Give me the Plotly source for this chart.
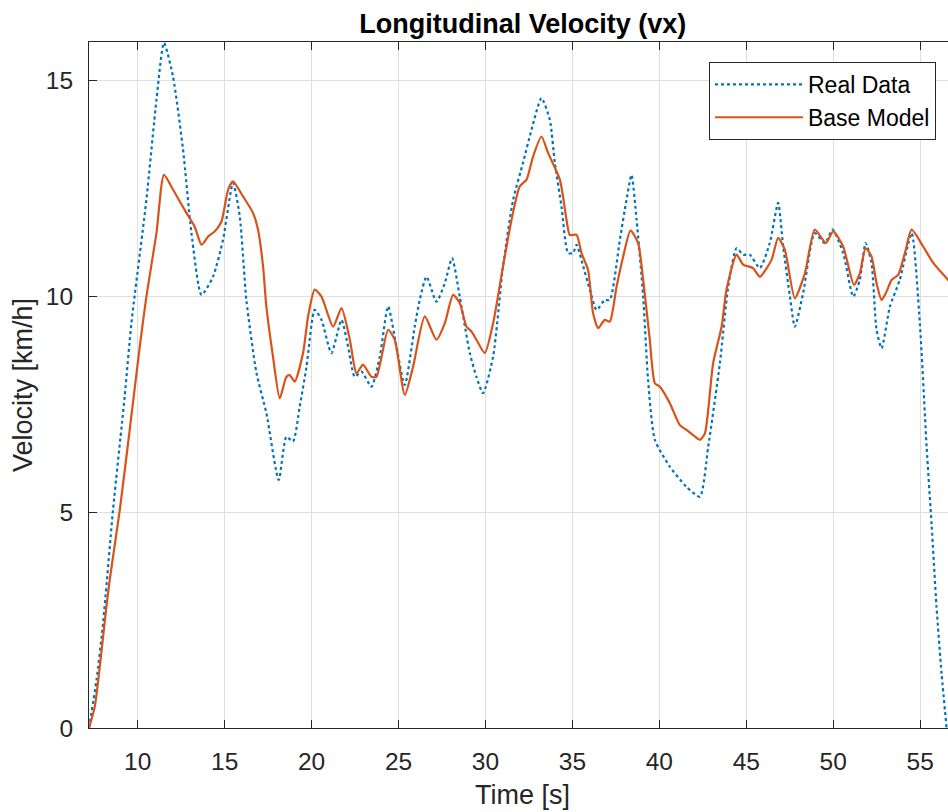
import plotly.graph_objects as go

# ---------------- data ----------------
real_t = [7.20, 7.63, 8.01, 8.58, 9.25, 9.64, 10.50, 11.08, 11.51, 12.03, 12.61, 13.09, 13.67,
          14.33, 14.91, 15.48, 15.87, 16.25, 16.83, 17.40, 18.11, 18.55, 18.93, 19.32, 19.71,
          20.18, 20.57, 21.14, 21.72, 22.10, 22.48, 22.87, 23.44, 23.92, 24.40, 24.88, 25.36,
          25.93, 26.22, 26.61, 27.18, 27.66, 28.08, 28.52, 29.10, 29.48, 29.86, 30.44, 31.01,
          31.59, 32.16, 32.65, 33.22, 33.70, 33.99, 34.37, 34.75, 35.04, 35.24, 35.62, 36.00,
          36.39, 36.86, 37.15, 37.73, 38.11, 38.40, 38.69, 39.07, 39.35, 39.74, 40.60, 41.56,
          42.33, 42.81, 43.48, 43.96, 44.44, 44.82, 45.20, 45.78, 46.35, 46.83, 47.12, 47.51,
          47.79, 48.27, 48.94, 49.52, 49.96, 50.57, 51.15, 51.53, 51.86, 52.20, 52.49, 52.78,
          53.26, 53.83, 54.51, 54.98, 55.37, 55.66, 55.94, 56.23, 56.52]
real_v = [0.00, 1.11, 2.43, 5.05, 7.68, 9.39, 12.24, 14.56, 15.88, 15.10, 13.40, 11.48, 10.04,
          10.46, 11.32, 12.63, 11.86, 9.92, 8.23, 7.30, 5.75, 6.75, 6.64, 7.45, 8.38,
          9.69, 9.46, 8.69, 9.46, 8.84, 8.14, 8.26, 7.91, 8.60, 9.77, 8.84, 7.95,
          9.30, 9.92, 10.46, 9.88, 10.31, 10.89, 10.00, 8.69, 8.14, 7.76, 8.61, 10.70,
          12.24, 13.10, 13.87, 14.60, 14.10, 13.10, 12.09, 11.01, 11.01, 11.20, 10.70, 10.16,
          9.69, 9.92, 9.92, 11.32, 12.24, 12.82, 11.78, 10.00, 8.07, 6.68, 6.06, 5.59,
          5.36, 6.52, 8.45, 10.23, 11.12, 10.97, 10.97, 10.66, 11.24, 12.17, 11.16, 10.00,
          9.30, 10.08, 11.47, 11.24, 11.55, 11.01, 10.00, 10.39, 11.24, 10.78, 9.23, 8.80,
          9.77, 10.39, 11.47, 9.38, 6.52, 4.70, 2.81, 1.26, 0.00]

model_t = [7.20, 7.53, 7.82, 8.20, 8.39, 8.97, 9.54, 10.12, 10.50, 11.08, 11.51, 12.03, 12.80,
           13.28, 13.67, 14.05, 14.43, 14.82, 15.20, 15.48, 16.06, 16.63, 16.92, 17.21, 17.40,
           17.78, 18.17, 18.55, 18.74, 19.03, 19.51, 19.80, 20.18, 20.57, 21.24, 21.72, 22.20,
           22.58, 22.96, 23.44, 23.73, 24.40, 24.78, 25.36, 25.84, 26.51, 27.18, 27.66, 28.14,
           28.52, 28.91, 29.20, 29.48, 29.96, 30.44, 31.01, 31.50, 31.97, 32.36, 32.74, 33.22,
           33.60, 34.28, 34.66, 34.85, 35.24, 35.52, 35.90, 36.19, 36.48, 36.86, 37.15, 37.54,
           37.92, 38.34, 38.78, 39.07, 39.45, 39.74, 40.03, 40.60, 41.18, 41.56, 41.94, 42.33,
           42.62, 43.09, 43.58, 43.86, 44.44, 44.82, 45.39, 45.78, 46.45, 46.83, 47.22, 47.79,
           48.37, 48.94, 49.58, 50.00, 50.57, 51.19, 51.53, 51.86, 52.20, 52.49, 52.78, 53.07,
           53.36, 53.73, 54.12, 54.51, 55.17, 55.75, 56.59, 57.10]
model_v = [0.00, 0.49, 1.42, 2.81, 3.43, 5.05, 6.91, 8.84, 10.00, 11.47, 12.82, 12.48, 11.94,
           11.62, 11.20, 11.39, 11.51, 11.74, 12.48, 12.67, 12.32, 11.94, 11.55, 10.70, 9.77,
           8.61, 7.64, 8.14, 8.18, 8.03, 8.69, 9.54, 10.16, 10.00, 9.30, 9.73, 9.00,
           8.22, 8.42, 8.14, 8.14, 9.23, 9.00, 7.72, 8.38, 9.54, 9.00, 9.38, 10.04,
           9.85, 9.30, 9.19, 9.00, 8.69, 9.38, 10.70, 11.78, 12.55, 12.71, 13.25, 13.71,
           13.33, 12.71, 11.78, 11.43, 11.43, 11.01, 10.62, 9.61, 9.27, 9.46, 9.42, 10.23,
           10.93, 11.53, 11.24, 10.39, 9.00, 7.99, 7.91, 7.53, 7.02, 6.91, 6.79, 6.68,
           6.83, 8.45, 9.30, 10.16, 10.97, 10.74, 10.66, 10.46, 10.85, 11.36, 11.08, 9.96,
           10.54, 11.55, 11.24, 11.51, 11.16, 10.27, 10.54, 11.12, 10.93, 10.31, 9.92, 10.12,
           10.39, 10.50, 11.01, 11.55, 11.16, 10.78, 10.39, 10.15]

x_ticks = [10, 15, 20, 25, 30, 35, 40, 45, 50, 55]
y_ticks = [0, 5, 10, 15]

title_text = "Longitudinal Velocity (vx)"
x_label = "Time [s]"
y_label = "Velocity [km/h]"

# ---------------- style ----------------
FONT = "Liberation Sans, Arial, Helvetica, sans-serif"
AX = "#262626"
GRID = "#dfdfdf"
BLUE = "#0072BD"
ORANGE = "#D95319"

fig = go.Figure()
fig.add_trace(go.Scatter(x=real_t, y=real_v, mode="lines", name="Real Data",
                         line=dict(color=BLUE, width=2.2, dash="3px,3px",
                                   shape="spline", smoothing=0.6)))
fig.add_trace(go.Scatter(x=model_t, y=model_v, mode="lines", name="Base Model",
                         line=dict(color=ORANGE, width=2.2,
                                   shape="spline", smoothing=0.6)))

fig.update_layout(
    width=948, height=812,
    margin=dict(l=89, r=0, t=42, b=84),
    paper_bgcolor="white", plot_bgcolor="white",
    font=dict(family=FONT, color=AX),
    title=dict(text="<b>" + title_text + "</b>", x=0.505, xref="paper", xanchor="center",
               y=1 - 24 / 812, yref="container", yanchor="middle",
               font=dict(size=27, color="black", family=FONT)),
    showlegend=True,
    legend=dict(x=0.986, xanchor="right", y=0.971, yanchor="top",
                bgcolor="white", bordercolor=AX, borderwidth=1,
                font=dict(size=23, color="black", family=FONT),
                itemwidth=88, tracegroupgap=0),
    xaxis=dict(range=[7.2, 56.6], tickmode="array", tickvals=x_ticks,
               ticks="inside", ticklen=8, tickcolor=AX, tickwidth=1,
               showline=True, linecolor=AX, linewidth=1, mirror="ticks",
               showgrid=True, gridcolor=GRID, gridwidth=1, zeroline=False,
               tickfont=dict(size=24.5, color=AX), ticklabelstandoff=12),
    yaxis=dict(range=[0, 15.9], tickmode="array", tickvals=y_ticks,
               ticks="inside", ticklen=8, tickcolor=AX, tickwidth=1,
               showline=True, linecolor=AX, linewidth=1, mirror=False,
               showgrid=True, gridcolor=GRID, gridwidth=1, zeroline=False,
               tickfont=dict(size=24.5, color=AX), ticklabelstandoff=10,
               title=dict(text=y_label, font=dict(size=27, color=AX), standoff=5)),
)

fig.add_annotation(text=x_label, x=0.505, xref="paper", xanchor="center",
                   y=-(795 - 727.7) / 685.4, yref="paper", yanchor="middle",
                   showarrow=False, font=dict(size=27, color=AX, family=FONT))

fig.write_html("out.html")
